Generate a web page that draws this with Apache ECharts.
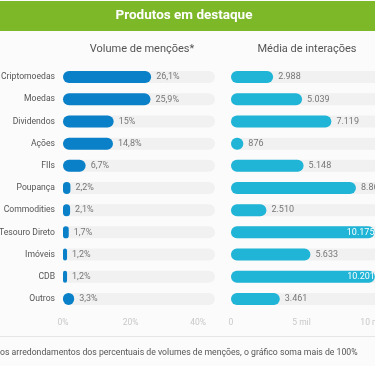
<!DOCTYPE html>
<html><head><meta charset="utf-8">
<script src="https://cdn.jsdelivr.net/npm/echarts@6/dist/echarts.min.js"></script>
<style>html,body{margin:0;padding:0;background:#fbfbfb}#c{width:375px;height:366px}</style>
</head><body><div id="c"></div>
<script>
const categories = ['Criptomoedas','Moedas','Dividendos','Ações','FIIs','Poupança','Commodities','Tesouro Direto','Imóveis','CDB','Outros'];
const mentionShare = [26.1,25.9,15,14.8,6.7,2.2,2.1,1.7,1.2,1.2,3.3];
const avgInteractions = [2988,5039,7119,876,5148,8862,2510,10175,5633,10201,3461];
const shareTicks = [0,20,40];
const interactionTicks = [0,5000,10000];
const FONT = "'Roboto',sans-serif";

const chart = echarts.init(document.getElementById('c'), null, {renderer:'canvas'});
const fmtPct = v => String(v).replace('.', ',') + '%';
const fmtNum = v => v >= 1000 ? Math.floor(v/1000) + '.' + String(v%1000).padStart(3,'0') : String(v);
chart.setOption({
  backgroundColor: '#fbfbfb',
  animation: false,
  graphic: [
    {type:'rect', shape:{x:0,y:1,width:375,height:30}, style:{fill:'#7db829'}},
    {type:'text', x:184, y:16, style:{text:'Produtos em destaque', fill:'#fff', font:"bold 13.5px " + FONT, align:'center', verticalAlign:'middle'}},
    {type:'text', x:142, y:49, style:{text:'Volume de menções*', fill:'#555', font:"11px " + FONT, align:'center', verticalAlign:'middle'}},
    {type:'text', x:307, y:49, style:{text:'Média de interações', fill:'#555', font:"11px " + FONT, align:'center', verticalAlign:'middle'}},
    {type:'rect', shape:{x:0,y:336,width:375,height:1}, style:{fill:'#e6e6e6'}},
    {type:'text', x:0, y:353, style:{text:'os arredondamentos dos percentuais de volumes de menções, o gráfico soma mais de 100%', fill:'#555', font:"8.7px " + FONT, verticalAlign:'middle'}}
  ],
  grid: [
    {left:63, top:66, width:152, height:244, outerBoundsMode:'none', containLabel:false},
    {left:231, top:66, width:211.5, height:244, outerBoundsMode:'none', containLabel:false}
  ],
  xAxis: [
    {gridIndex:0, type:'value', min:0, max:45, interval:20, splitLine:{show:false}, axisLine:{show:false}, axisTick:{show:false},
     axisLabel:{color:'#c8c8c8', fontSize:8.5, fontFamily:FONT, margin:8, formatter: v => shareTicks.includes(v) ? v + '%' : ''}},
    {gridIndex:1, type:'value', min:0, max:15000, interval:5000, splitLine:{show:false}, axisLine:{show:false}, axisTick:{show:false},
     axisLabel:{color:'#c8c8c8', fontSize:8.5, fontFamily:FONT, margin:8, formatter: v => interactionTicks.includes(v) ? (v === 0 ? '0' : (v/1000) + ' mil') : ''}}
  ],
  yAxis: [
    {gridIndex:0, type:'category', data:categories, inverse:true, axisLine:{show:false}, axisTick:{show:false},
     axisLabel:{color:'#555', fontSize:8.6, fontFamily:FONT, margin:8}},
    {gridIndex:1, type:'category', data:categories, inverse:true, axisLine:{show:false}, axisTick:{show:false}, axisLabel:{show:false}}
  ],
  series: [
    {type:'bar', xAxisIndex:0, yAxisIndex:0, data:mentionShare, barWidth:12,
     itemStyle:{color:'#0a80c8', borderRadius:6},
     showBackground:true, backgroundStyle:{color:'#f1f1f1', borderRadius:6},
     label:{show:true, position:'right', distance:5, color:'#777', fontSize:9, fontFamily:FONT, formatter: p => fmtPct(p.value)}},
    {type:'bar', xAxisIndex:1, yAxisIndex:1, barWidth:12,
     data: avgInteractions.map(v => v > 9500 ? {value:v, label:{position:'insideRight', distance:0, color:'#fff'}} : v),
     itemStyle:{color:'#20b5d6', borderRadius:6},
     showBackground:true, backgroundStyle:{color:'#f1f1f1', borderRadius:6},
     label:{show:true, position:'right', distance:5, color:'#777', fontSize:9, fontFamily:FONT, formatter: p => fmtNum(p.value)}}
  ]
});
</script></body></html>
